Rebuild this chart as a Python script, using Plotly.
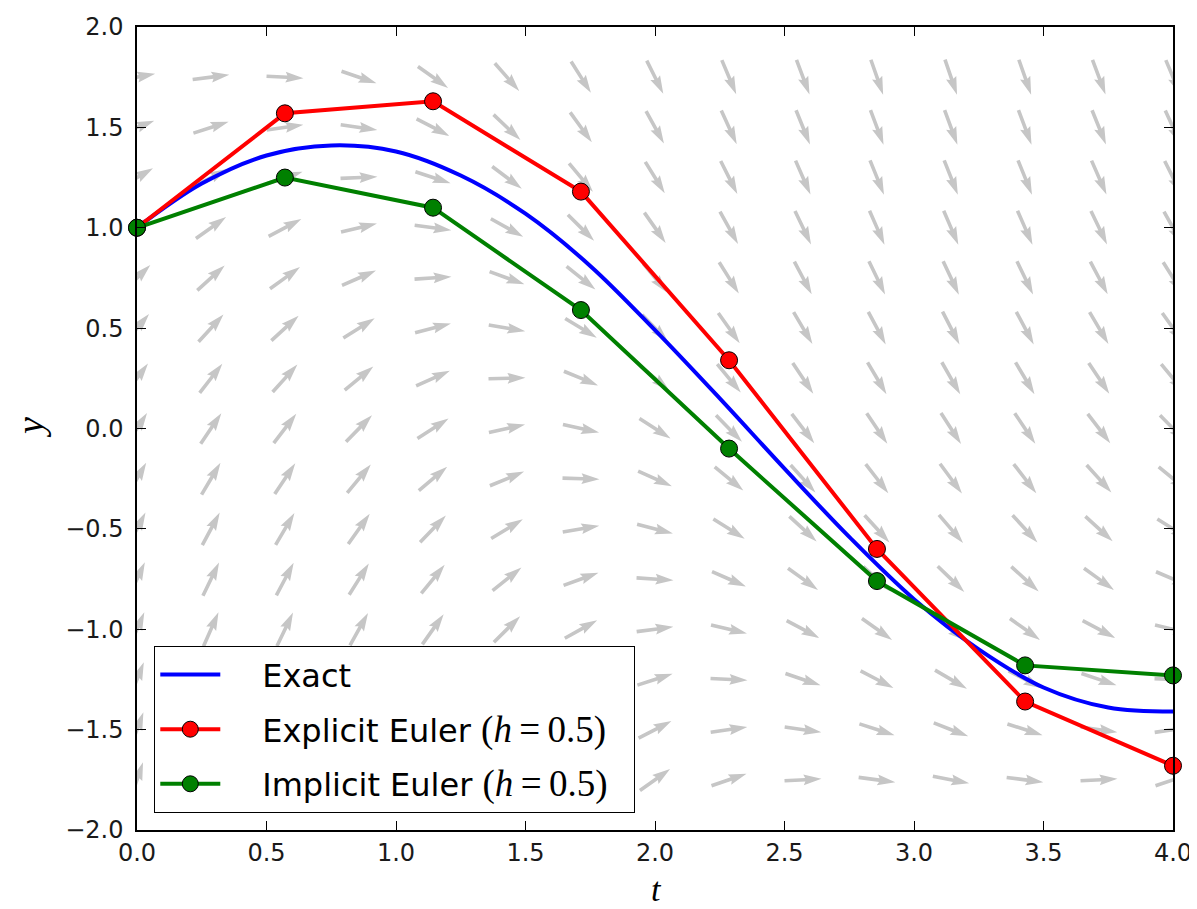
import numpy as np
import plotly.graph_objects as go

# ---- data ----
t_exact = [0.00, 0.25, 0.50, 0.75, 1.00, 1.25, 1.50, 1.75, 2.00, 2.25,
           2.50, 2.75, 3.00, 3.25, 3.50, 3.75, 4.00]
y_exact = [1.00, 1.22, 1.36, 1.41, 1.38, 1.26, 1.07, 0.81, 0.49, 0.15,
           -0.20, -0.54, -0.85, -1.10, -1.29, -1.39, -1.41]

t_steps = [0.000, 0.571, 1.143, 1.714, 2.286, 2.857, 3.429, 4.000]
y_explicit = [1.00, 1.57, 1.63, 1.18, 0.34, -0.60, -1.36, -1.68]
y_implicit = [1.00, 1.25, 1.10, 0.59, -0.10, -0.76, -1.18, -1.23]

PAD = "\u00a0\u00a0\u00a0\u2009"
TAIL = "\u00a0\u00a0"
MATH = "<span style=\"font-family:'Liberation Serif';font-size:37px\">(<i>h</i>\u2009=\u20090.5)</span>"
legend_names = [PAD + "Exact",
                PAD + "Explicit Euler\u00a0" + MATH + TAIL,
                PAD + "Implicit Euler\u00a0" + MATH + TAIL]

# direction field grid (ODE y' = 2 cos t - y)
t_grid = np.linspace(0, 4, 15)
y_grid = np.arange(-1.75, 1.76, 0.25)


def slope(t, y):
    return 2 * np.cos(t) - y


# ---- layout geometry (page has an 8px body margin) ----
W, H = 1189, 901
ML, MR, MT, MB = 129, 24, 19, 79
PW, PH = W - ML - MR, H - MT - MB
XR = [0, 4]
YR = [-2, 2]
px_t = PW / (XR[1] - XR[0])
px_y = PH / (YR[1] - YR[0])

# arrow shape in pixels (quiver-like)
L = 37.0
w = 3.6
hl, hal, hw = 5 * w, 4.5 * w, 3 * w
local = np.array([
    [0, -w / 2], [L - hal, -w / 2], [L - hl, -hw / 2], [L, 0],
    [L - hl, hw / 2], [L - hal, w / 2], [0, w / 2], [0, -w / 2]
])
local[:, 0] -= L / 2  # pivot at middle

ax_x, ax_y = [], []
for tg in t_grid:
    for yg in y_grid:
        f = slope(tg, yg)
        vx, vy = px_t * 1.0, px_y * f
        n = np.hypot(vx, vy)
        c, s = vx / n, vy / n
        X = local[:, 0] * c - local[:, 1] * s
        Y = local[:, 0] * s + local[:, 1] * c
        ax_x.extend(list(tg + X / px_t) + [None])
        ax_y.extend(list(yg + Y / px_y) + [None])

fig = go.Figure()
fig.add_trace(go.Scatter(x=ax_x, y=ax_y, mode="lines", fill="toself",
                         fillcolor="#c6c6c6", line=dict(width=0, color="#c6c6c6"),
                         showlegend=False, hoverinfo="skip"))
fig.add_trace(go.Scatter(x=t_exact, y=y_exact, mode="lines", name=legend_names[0],
                         line=dict(color="#0000ff", width=4, shape="spline", smoothing=1.0),
                         legendgroup="a"))
fig.add_trace(go.Scatter(x=t_steps, y=y_explicit, mode="lines+markers", name=legend_names[1],
                         line=dict(color="#ff0000", width=4),
                         marker=dict(size=17, color="#ff0000", line=dict(color="black", width=1)),
                         legendgroup="b", cliponaxis=False))
fig.add_trace(go.Scatter(x=t_steps, y=y_implicit, mode="lines+markers", name=legend_names[2],
                         line=dict(color="#008000", width=4),
                         marker=dict(size=17, color="#008000", line=dict(color="black", width=1)),
                         legendgroup="c", cliponaxis=False))

axis_common = dict(
    showgrid=False, zeroline=False, showline=True, linecolor="black", linewidth=1.5,
    mirror="ticks", ticks="inside", ticklen=9, tickwidth=1.3, tickcolor="black",
    dtick=0.5, tickformat=".1f", automargin=False,
    tickfont=dict(family="DejaVu Sans", size=24, color="#1a1a1a"),
)

fig.update_layout(
    width=W, height=H,
    margin=dict(l=ML, r=MR, t=MT, b=MB),
    paper_bgcolor="white", plot_bgcolor="white",
    xaxis=dict(range=XR, ticklabelstandoff=0, **axis_common),
    yaxis=dict(range=YR, ticklabelstandoff=7, **axis_common),
    legend=dict(x=17 / PW, y=17 / PH, xanchor="left", yanchor="bottom",
                bgcolor="white", bordercolor="black", borderwidth=1.3,
                font=dict(family="DejaVu Sans", size=32, color="black"),
                tracegroupgap=10, itemwidth=60, traceorder="grouped"),
    showlegend=True,
    annotations=[
        dict(text="<i>t</i>", xref="paper", yref="paper",
             x=519 / PW, y=-59 / PH, xanchor="center", yanchor="middle",
             showarrow=False, font=dict(family="Liberation Serif", size=34, color="black")),
        dict(text="<i>y</i>", xref="paper", yref="paper", textangle=-90,
             x=-107 / PW, y=402 / PH, xanchor="center", yanchor="middle",
             showarrow=False, font=dict(family="Liberation Serif", size=38, color="black")),
    ],
)

fig.write_html("out.html")
